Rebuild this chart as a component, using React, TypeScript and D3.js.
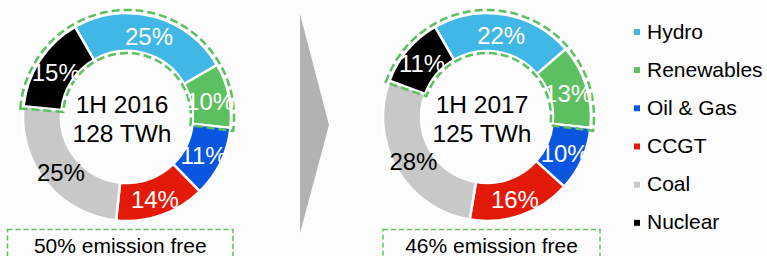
import React from "react";
import * as d3 from "d3";

const categories = ["Hydro", "Renewables", "Oil & Gas", "CCGT", "Coal", "Nuclear"];
const values2016 = [25, 10, 11, 14, 25, 15];
const values2017 = [22, 13, 10, 16, 28, 11];
const colors = ["#41b7e6", "#5cbf60", "#0a56e0", "#e31a0a", "#c8c8c8", "#000000"];
const labelColors = ["#ffffff", "#ffffff", "#ffffff", "#ffffff", "#000000", "#ffffff"];
const titles2016 = ["1H 2016", "128 TWh"];
const titles2017 = ["1H 2017", "125 TWh"];
const emission2016 = "50% emission free";
const emission2017 = "46% emission free";

const W = 767;
const H = 256;
const R = 104;
const r = 66;
const START = (-30 * Math.PI) / 180;
const GREEN = "#5cbf60";
const FONT = "'Liberation Sans', Arial, sans-serif";

function Donut({ cx, cy, values, titles, note, boxX0, boxX1 }: any) {
  const pie = d3
    .pie<number>()
    .sort(null)
    .value((d) => d)
    .startAngle(START)
    .endAngle(START + 2 * Math.PI);
  const arcs = pie(values);
  const arc = d3.arc<any>().innerRadius(r).outerRadius(R);
  const labelArc = d3.arc<any>().innerRadius((R + r) / 2).outerRadius((R + r) / 2);

  // emission-free group: Nuclear start -> Renewables end
  const gStart = arcs[5].startAngle - 2 * Math.PI;
  const gEnd = arcs[1].endAngle;
  const pad = 0.025;
  const groupArc = d3
    .arc<any>()
    .innerRadius(r - 2)
    .outerRadius(R + 3)
    .startAngle(gStart - pad)
    .endAngle(gEnd + pad);

  const total = d3.sum(values);
  return (
    <g>
      <g transform={`translate(${cx},${cy})`}>
        {arcs.map((a, i) => (
          <path key={categories[i]} d={arc(a) as string} fill={colors[i]} stroke="#ffffff" strokeWidth={2.5} />
        ))}
        <path
          d={groupArc({}) as string}
          fill="none"
          stroke={GREEN}
          strokeWidth={2.5}
          strokeDasharray="8 4"
        />
        {arcs.map((a, i) => {
          const [x, y] = labelArc.centroid(a);
          return (
            <text
              key={"l" + i}
              x={x}
              y={y + 10.3}
              textAnchor="middle"
              fontSize={24}
              fontFamily={FONT}
              fill={labelColors[i]}
            >
              {`${Math.round((values[i] / total) * 100)}%`}
            </text>
          );
        })}
        <text x={-5} y={-4} textAnchor="middle" fontSize={24.5} fontFamily={FONT} fill="#000">
          {titles[0]}
        </text>
        <text x={-5} y={25} textAnchor="middle" fontSize={24.5} fontFamily={FONT} fill="#000">
          {titles[1]}
        </text>
      </g>
      <rect
        x={boxX0}
        y={229.5}
        width={boxX1 - boxX0}
        height={40}
        fill="none"
        stroke={GREEN}
        strokeWidth={1.5}
        strokeDasharray="5 3"
      />
      <text
        x={(boxX0 + boxX1) / 2}
        y={252.8}
        textAnchor="middle"
        fontSize={21}
        fontFamily={FONT}
        fill="#000"
      >
        {note}
      </text>
    </g>
  );
}

export default function App() {
  const legendY = d3.scalePoint<string>().domain(categories).range([38.5, 229.3]);
  return (
    <svg
      width={W}
      height={H}
      style={{ position: "fixed", left: 0, top: 0, display: "block" }}
    >
      <rect x={0} y={0} width={W} height={H} fill="#fcfcfc" />
      <Donut cx={127} cy={117} values={values2016} titles={titles2016} note={emission2016} boxX0={7.5} boxX1={233} />
      <polygon points="300,14 329,125 300,233" fill="#b2b2b2" />
      <Donut cx={487} cy={117} values={values2017} titles={titles2017} note={emission2017} boxX0={383} boxX1={600} />
      {categories.map((c, i) => {
        const y = legendY(c) as number;
        return (
          <g key={c}>
            <rect x={633.5} y={y - 10} width={7} height={7} fill={colors[i]} stroke="#ffffff" strokeWidth={1} />
            <text x={647} y={y} fontSize={21} fontFamily={FONT} fill="#000">
              {c}
            </text>
          </g>
        );
      })}
    </svg>
  );
}
